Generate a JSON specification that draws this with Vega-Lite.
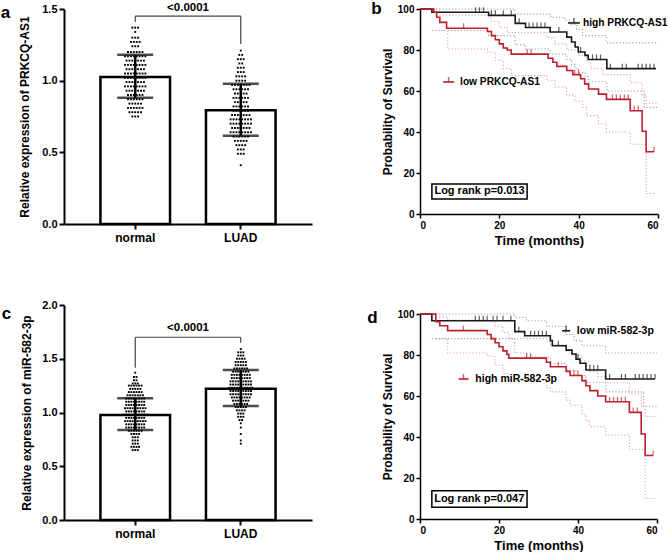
{
"$schema":"https://vega.github.io/schema/vega-lite/v6.json",
"background":"white",
"padding":{"left":0,"top":0,"right":0,"bottom":0},
"config":{
 "font":"Liberation Sans",
 "view":{"stroke":null},
 "axis":{"labelFont":"Liberation Sans","titleFont":"Liberation Sans","labelFontWeight":"bold","titleFontWeight":"bold","labelColor":"#000","titleColor":"#000","domainColor":"#000","tickColor":"#000","grid":false,"domainWidth":2,"tickWidth":2},
 "title":{"font":"Liberation Sans","color":"#000"},
 "text":{"font":"Liberation Sans"}
},
"datasets":{
 "sumA":[{"g":"normal","mean":1.026,"lo":0.881,"hi":1.18},{"g":"LUAD","mean":0.793,"lo":0.616,"hi":0.979}],
 "brA":[{"g":"normal","top":1.45,"bot":1.41},{"g":"LUAD","top":1.45,"bot":1.256}],
 "brA2":[{"from":"normal","to":"LUAD","y":1.45,"ly":1.51,"label":"<0.0001"}],
 "sumC":[{"g":"normal","mean":0.977,"lo":0.837,"hi":1.132},{"g":"LUAD","mean":1.222,"lo":1.06,"hi":1.395}],
 "brC":[{"g":"normal","top":1.7,"bot":1.417},{"g":"LUAD","top":1.7,"bot":1.65}],
 "brC2":[{"from":"normal","to":"LUAD","y":1.7,"ly":1.79,"label":"<0.0001"}],
 "dotsA":[
{"g":"normal","v":1.37,"c":-1},{"g":"normal","v":1.37,"c":0},{"g":"normal","v":1.37,"c":1},
{"g":"normal","v":1.34,"c":0},
{"g":"normal","v":1.3,"c":-1},{"g":"normal","v":1.3,"c":0},{"g":"normal","v":1.3,"c":1},
{"g":"normal","v":1.27,"c":-1.5},{"g":"normal","v":1.27,"c":-0.5},{"g":"normal","v":1.27,"c":0.5},{"g":"normal","v":1.27,"c":1.5},
{"g":"normal","v":1.24,"c":-1},{"g":"normal","v":1.24,"c":0},{"g":"normal","v":1.24,"c":1},
{"g":"normal","v":1.2,"c":-2.5},{"g":"normal","v":1.2,"c":-1.5},{"g":"normal","v":1.2,"c":-0.5},{"g":"normal","v":1.2,"c":0.5},{"g":"normal","v":1.2,"c":1.5},{"g":"normal","v":1.2,"c":2.5},
{"g":"normal","v":1.17,"c":-3.5},{"g":"normal","v":1.17,"c":-2.5},{"g":"normal","v":1.17,"c":-1.5},{"g":"normal","v":1.17,"c":-0.5},{"g":"normal","v":1.17,"c":0.5},{"g":"normal","v":1.17,"c":1.5},{"g":"normal","v":1.17,"c":2.5},{"g":"normal","v":1.17,"c":3.5},
{"g":"normal","v":1.14,"c":-3},{"g":"normal","v":1.14,"c":-2},{"g":"normal","v":1.14,"c":-1},{"g":"normal","v":1.14,"c":0},{"g":"normal","v":1.14,"c":1},{"g":"normal","v":1.14,"c":2},{"g":"normal","v":1.14,"c":3},
{"g":"normal","v":1.11,"c":-3.5},{"g":"normal","v":1.11,"c":-2.5},{"g":"normal","v":1.11,"c":-1.5},{"g":"normal","v":1.11,"c":-0.5},{"g":"normal","v":1.11,"c":0.5},{"g":"normal","v":1.11,"c":1.5},{"g":"normal","v":1.11,"c":2.5},{"g":"normal","v":1.11,"c":3.5},
{"g":"normal","v":1.08,"c":-3},{"g":"normal","v":1.08,"c":-2},{"g":"normal","v":1.08,"c":-1},{"g":"normal","v":1.08,"c":0},{"g":"normal","v":1.08,"c":1},{"g":"normal","v":1.08,"c":2},{"g":"normal","v":1.08,"c":3},
{"g":"normal","v":1.05,"c":-3.5},{"g":"normal","v":1.05,"c":-2.5},{"g":"normal","v":1.05,"c":-1.5},{"g":"normal","v":1.05,"c":-0.5},{"g":"normal","v":1.05,"c":0.5},{"g":"normal","v":1.05,"c":1.5},{"g":"normal","v":1.05,"c":2.5},{"g":"normal","v":1.05,"c":3.5},
{"g":"normal","v":1.02,"c":-3.5},{"g":"normal","v":1.02,"c":-2.5},{"g":"normal","v":1.02,"c":-1.5},{"g":"normal","v":1.02,"c":-0.5},{"g":"normal","v":1.02,"c":0.5},{"g":"normal","v":1.02,"c":1.5},{"g":"normal","v":1.02,"c":2.5},{"g":"normal","v":1.02,"c":3.5},
{"g":"normal","v":0.99,"c":-3},{"g":"normal","v":0.99,"c":-2},{"g":"normal","v":0.99,"c":-1},{"g":"normal","v":0.99,"c":0},{"g":"normal","v":0.99,"c":1},{"g":"normal","v":0.99,"c":2},{"g":"normal","v":0.99,"c":3},
{"g":"normal","v":0.96,"c":-3.5},{"g":"normal","v":0.96,"c":-2.5},{"g":"normal","v":0.96,"c":-1.5},{"g":"normal","v":0.96,"c":-0.5},{"g":"normal","v":0.96,"c":0.5},{"g":"normal","v":0.96,"c":1.5},{"g":"normal","v":0.96,"c":2.5},{"g":"normal","v":0.96,"c":3.5},
{"g":"normal","v":0.93,"c":-3},{"g":"normal","v":0.93,"c":-2},{"g":"normal","v":0.93,"c":-1},{"g":"normal","v":0.93,"c":0},{"g":"normal","v":0.93,"c":1},{"g":"normal","v":0.93,"c":2},{"g":"normal","v":0.93,"c":3},
{"g":"normal","v":0.9,"c":-2.5},{"g":"normal","v":0.9,"c":-1.5},{"g":"normal","v":0.9,"c":-0.5},{"g":"normal","v":0.9,"c":0.5},{"g":"normal","v":0.9,"c":1.5},{"g":"normal","v":0.9,"c":2.5},
{"g":"normal","v":0.87,"c":-2.5},{"g":"normal","v":0.87,"c":-1.5},{"g":"normal","v":0.87,"c":-0.5},{"g":"normal","v":0.87,"c":0.5},{"g":"normal","v":0.87,"c":1.5},{"g":"normal","v":0.87,"c":2.5},
{"g":"normal","v":0.84,"c":-2},{"g":"normal","v":0.84,"c":-1},{"g":"normal","v":0.84,"c":0},{"g":"normal","v":0.84,"c":1},{"g":"normal","v":0.84,"c":2},
{"g":"normal","v":0.81,"c":-2.5},{"g":"normal","v":0.81,"c":-1.5},{"g":"normal","v":0.81,"c":-0.5},{"g":"normal","v":0.81,"c":0.5},{"g":"normal","v":0.81,"c":1.5},{"g":"normal","v":0.81,"c":2.5},
{"g":"normal","v":0.78,"c":-2},{"g":"normal","v":0.78,"c":-1},{"g":"normal","v":0.78,"c":0},{"g":"normal","v":0.78,"c":1},{"g":"normal","v":0.78,"c":2},
{"g":"normal","v":0.75,"c":-1},{"g":"normal","v":0.75,"c":0},{"g":"normal","v":0.75,"c":1},
{"g":"LUAD","v":1.21,"c":0},
{"g":"LUAD","v":1.18,"c":-0.5},{"g":"LUAD","v":1.18,"c":0.5},
{"g":"LUAD","v":1.15,"c":-1},{"g":"LUAD","v":1.15,"c":0},{"g":"LUAD","v":1.15,"c":1},
{"g":"LUAD","v":1.12,"c":-0.5},{"g":"LUAD","v":1.12,"c":0.5},
{"g":"LUAD","v":1.09,"c":-1},{"g":"LUAD","v":1.09,"c":0},{"g":"LUAD","v":1.09,"c":1},
{"g":"LUAD","v":1.06,"c":-1},{"g":"LUAD","v":1.06,"c":0},{"g":"LUAD","v":1.06,"c":1},
{"g":"LUAD","v":1.03,"c":-1.5},{"g":"LUAD","v":1.03,"c":-0.5},{"g":"LUAD","v":1.03,"c":0.5},{"g":"LUAD","v":1.03,"c":1.5},
{"g":"LUAD","v":1.0,"c":-1.5},{"g":"LUAD","v":1.0,"c":-0.5},{"g":"LUAD","v":1.0,"c":0.5},{"g":"LUAD","v":1.0,"c":1.5},
{"g":"LUAD","v":0.97,"c":-3},{"g":"LUAD","v":0.97,"c":-2},{"g":"LUAD","v":0.97,"c":-1},{"g":"LUAD","v":0.97,"c":0},{"g":"LUAD","v":0.97,"c":1},{"g":"LUAD","v":0.97,"c":2},{"g":"LUAD","v":0.97,"c":3},
{"g":"LUAD","v":0.94,"c":-2.5},{"g":"LUAD","v":0.94,"c":-1.5},{"g":"LUAD","v":0.94,"c":-0.5},{"g":"LUAD","v":0.94,"c":0.5},{"g":"LUAD","v":0.94,"c":1.5},{"g":"LUAD","v":0.94,"c":2.5},
{"g":"LUAD","v":0.91,"c":-2},{"g":"LUAD","v":0.91,"c":-1},{"g":"LUAD","v":0.91,"c":0},{"g":"LUAD","v":0.91,"c":1},{"g":"LUAD","v":0.91,"c":2},
{"g":"LUAD","v":0.88,"c":-2.5},{"g":"LUAD","v":0.88,"c":-1.5},{"g":"LUAD","v":0.88,"c":-0.5},{"g":"LUAD","v":0.88,"c":0.5},{"g":"LUAD","v":0.88,"c":1.5},{"g":"LUAD","v":0.88,"c":2.5},
{"g":"LUAD","v":0.85,"c":-2},{"g":"LUAD","v":0.85,"c":-1},{"g":"LUAD","v":0.85,"c":0},{"g":"LUAD","v":0.85,"c":1},{"g":"LUAD","v":0.85,"c":2},
{"g":"LUAD","v":0.82,"c":-2.5},{"g":"LUAD","v":0.82,"c":-1.5},{"g":"LUAD","v":0.82,"c":-0.5},{"g":"LUAD","v":0.82,"c":0.5},{"g":"LUAD","v":0.82,"c":1.5},{"g":"LUAD","v":0.82,"c":2.5},
{"g":"LUAD","v":0.79,"c":-2.5},{"g":"LUAD","v":0.79,"c":-1.5},{"g":"LUAD","v":0.79,"c":-0.5},{"g":"LUAD","v":0.79,"c":0.5},{"g":"LUAD","v":0.79,"c":1.5},{"g":"LUAD","v":0.79,"c":2.5},
{"g":"LUAD","v":0.76,"c":-3},{"g":"LUAD","v":0.76,"c":-2},{"g":"LUAD","v":0.76,"c":-1},{"g":"LUAD","v":0.76,"c":0},{"g":"LUAD","v":0.76,"c":1},{"g":"LUAD","v":0.76,"c":2},{"g":"LUAD","v":0.76,"c":3},
{"g":"LUAD","v":0.73,"c":-3.5},{"g":"LUAD","v":0.73,"c":-2.5},{"g":"LUAD","v":0.73,"c":-1.5},{"g":"LUAD","v":0.73,"c":-0.5},{"g":"LUAD","v":0.73,"c":0.5},{"g":"LUAD","v":0.73,"c":1.5},{"g":"LUAD","v":0.73,"c":2.5},{"g":"LUAD","v":0.73,"c":3.5},
{"g":"LUAD","v":0.7,"c":-3.5},{"g":"LUAD","v":0.7,"c":-2.5},{"g":"LUAD","v":0.7,"c":-1.5},{"g":"LUAD","v":0.7,"c":-0.5},{"g":"LUAD","v":0.7,"c":0.5},{"g":"LUAD","v":0.7,"c":1.5},{"g":"LUAD","v":0.7,"c":2.5},{"g":"LUAD","v":0.7,"c":3.5},
{"g":"LUAD","v":0.67,"c":-3},{"g":"LUAD","v":0.67,"c":-2},{"g":"LUAD","v":0.67,"c":-1},{"g":"LUAD","v":0.67,"c":0},{"g":"LUAD","v":0.67,"c":1},{"g":"LUAD","v":0.67,"c":2},{"g":"LUAD","v":0.67,"c":3},
{"g":"LUAD","v":0.64,"c":-3.5},{"g":"LUAD","v":0.64,"c":-2.5},{"g":"LUAD","v":0.64,"c":-1.5},{"g":"LUAD","v":0.64,"c":-0.5},{"g":"LUAD","v":0.64,"c":0.5},{"g":"LUAD","v":0.64,"c":1.5},{"g":"LUAD","v":0.64,"c":2.5},{"g":"LUAD","v":0.64,"c":3.5},
{"g":"LUAD","v":0.61,"c":-2.5},{"g":"LUAD","v":0.61,"c":-1.5},{"g":"LUAD","v":0.61,"c":-0.5},{"g":"LUAD","v":0.61,"c":0.5},{"g":"LUAD","v":0.61,"c":1.5},{"g":"LUAD","v":0.61,"c":2.5},
{"g":"LUAD","v":0.58,"c":-2},{"g":"LUAD","v":0.58,"c":-1},{"g":"LUAD","v":0.58,"c":0},{"g":"LUAD","v":0.58,"c":1},{"g":"LUAD","v":0.58,"c":2},
{"g":"LUAD","v":0.55,"c":-1.5},{"g":"LUAD","v":0.55,"c":-0.5},{"g":"LUAD","v":0.55,"c":0.5},{"g":"LUAD","v":0.55,"c":1.5},
{"g":"LUAD","v":0.52,"c":-1},{"g":"LUAD","v":0.52,"c":0},{"g":"LUAD","v":0.52,"c":1},
{"g":"LUAD","v":0.49,"c":-1},{"g":"LUAD","v":0.49,"c":0},{"g":"LUAD","v":0.49,"c":1},
{"g":"LUAD","v":0.41,"c":0}
 ],
 "dotsC":[
{"g":"normal","v":1.37,"c":0},
{"g":"normal","v":1.33,"c":-0.5},{"g":"normal","v":1.33,"c":0.5},
{"g":"normal","v":1.3,"c":-0.5},{"g":"normal","v":1.3,"c":0.5},
{"g":"normal","v":1.27,"c":-1},{"g":"normal","v":1.27,"c":0},{"g":"normal","v":1.27,"c":1},
{"g":"normal","v":1.25,"c":-2.5},{"g":"normal","v":1.25,"c":-1.5},{"g":"normal","v":1.25,"c":-0.5},{"g":"normal","v":1.25,"c":0.5},{"g":"normal","v":1.25,"c":1.5},{"g":"normal","v":1.25,"c":2.5},
{"g":"normal","v":1.22,"c":-2},{"g":"normal","v":1.22,"c":-1},{"g":"normal","v":1.22,"c":0},{"g":"normal","v":1.22,"c":1},{"g":"normal","v":1.22,"c":2},
{"g":"normal","v":1.19,"c":-2.5},{"g":"normal","v":1.19,"c":-1.5},{"g":"normal","v":1.19,"c":-0.5},{"g":"normal","v":1.19,"c":0.5},{"g":"normal","v":1.19,"c":1.5},{"g":"normal","v":1.19,"c":2.5},
{"g":"normal","v":1.16,"c":-3},{"g":"normal","v":1.16,"c":-2},{"g":"normal","v":1.16,"c":-1},{"g":"normal","v":1.16,"c":0},{"g":"normal","v":1.16,"c":1},{"g":"normal","v":1.16,"c":2},{"g":"normal","v":1.16,"c":3},
{"g":"normal","v":1.13,"c":-3.5},{"g":"normal","v":1.13,"c":-2.5},{"g":"normal","v":1.13,"c":-1.5},{"g":"normal","v":1.13,"c":-0.5},{"g":"normal","v":1.13,"c":0.5},{"g":"normal","v":1.13,"c":1.5},{"g":"normal","v":1.13,"c":2.5},{"g":"normal","v":1.13,"c":3.5},
{"g":"normal","v":1.1,"c":-3.5},{"g":"normal","v":1.1,"c":-2.5},{"g":"normal","v":1.1,"c":-1.5},{"g":"normal","v":1.1,"c":-0.5},{"g":"normal","v":1.1,"c":0.5},{"g":"normal","v":1.1,"c":1.5},{"g":"normal","v":1.1,"c":2.5},{"g":"normal","v":1.1,"c":3.5},
{"g":"normal","v":1.07,"c":-3.5},{"g":"normal","v":1.07,"c":-2.5},{"g":"normal","v":1.07,"c":-1.5},{"g":"normal","v":1.07,"c":-0.5},{"g":"normal","v":1.07,"c":0.5},{"g":"normal","v":1.07,"c":1.5},{"g":"normal","v":1.07,"c":2.5},{"g":"normal","v":1.07,"c":3.5},
{"g":"normal","v":1.04,"c":-4},{"g":"normal","v":1.04,"c":-3},{"g":"normal","v":1.04,"c":-2},{"g":"normal","v":1.04,"c":-1},{"g":"normal","v":1.04,"c":0},{"g":"normal","v":1.04,"c":1},{"g":"normal","v":1.04,"c":2},{"g":"normal","v":1.04,"c":3},{"g":"normal","v":1.04,"c":4},
{"g":"normal","v":1.01,"c":-3.5},{"g":"normal","v":1.01,"c":-2.5},{"g":"normal","v":1.01,"c":-1.5},{"g":"normal","v":1.01,"c":-0.5},{"g":"normal","v":1.01,"c":0.5},{"g":"normal","v":1.01,"c":1.5},{"g":"normal","v":1.01,"c":2.5},{"g":"normal","v":1.01,"c":3.5},
{"g":"normal","v":0.98,"c":-4.5},{"g":"normal","v":0.98,"c":-3.5},{"g":"normal","v":0.98,"c":-2.5},{"g":"normal","v":0.98,"c":-1.5},{"g":"normal","v":0.98,"c":-0.5},{"g":"normal","v":0.98,"c":0.5},{"g":"normal","v":0.98,"c":1.5},{"g":"normal","v":0.98,"c":2.5},{"g":"normal","v":0.98,"c":3.5},{"g":"normal","v":0.98,"c":4.5},
{"g":"normal","v":0.95,"c":-3.5},{"g":"normal","v":0.95,"c":-2.5},{"g":"normal","v":0.95,"c":-1.5},{"g":"normal","v":0.95,"c":-0.5},{"g":"normal","v":0.95,"c":0.5},{"g":"normal","v":0.95,"c":1.5},{"g":"normal","v":0.95,"c":2.5},{"g":"normal","v":0.95,"c":3.5},
{"g":"normal","v":0.92,"c":-4},{"g":"normal","v":0.92,"c":-3},{"g":"normal","v":0.92,"c":-2},{"g":"normal","v":0.92,"c":-1},{"g":"normal","v":0.92,"c":0},{"g":"normal","v":0.92,"c":1},{"g":"normal","v":0.92,"c":2},{"g":"normal","v":0.92,"c":3},{"g":"normal","v":0.92,"c":4},
{"g":"normal","v":0.89,"c":-3.5},{"g":"normal","v":0.89,"c":-2.5},{"g":"normal","v":0.89,"c":-1.5},{"g":"normal","v":0.89,"c":-0.5},{"g":"normal","v":0.89,"c":0.5},{"g":"normal","v":0.89,"c":1.5},{"g":"normal","v":0.89,"c":2.5},{"g":"normal","v":0.89,"c":3.5},
{"g":"normal","v":0.86,"c":-3.5},{"g":"normal","v":0.86,"c":-2.5},{"g":"normal","v":0.86,"c":-1.5},{"g":"normal","v":0.86,"c":-0.5},{"g":"normal","v":0.86,"c":0.5},{"g":"normal","v":0.86,"c":1.5},{"g":"normal","v":0.86,"c":2.5},{"g":"normal","v":0.86,"c":3.5},
{"g":"normal","v":0.83,"c":-2.5},{"g":"normal","v":0.83,"c":-1.5},{"g":"normal","v":0.83,"c":-0.5},{"g":"normal","v":0.83,"c":0.5},{"g":"normal","v":0.83,"c":1.5},{"g":"normal","v":0.83,"c":2.5},
{"g":"normal","v":0.8,"c":-1.5},{"g":"normal","v":0.8,"c":-0.5},{"g":"normal","v":0.8,"c":0.5},{"g":"normal","v":0.8,"c":1.5},
{"g":"normal","v":0.77,"c":-1},{"g":"normal","v":0.77,"c":0},{"g":"normal","v":0.77,"c":1},
{"g":"normal","v":0.74,"c":-1},{"g":"normal","v":0.74,"c":0},{"g":"normal","v":0.74,"c":1},
{"g":"normal","v":0.71,"c":-1},{"g":"normal","v":0.71,"c":0},{"g":"normal","v":0.71,"c":1},
{"g":"normal","v":0.68,"c":-1.5},{"g":"normal","v":0.68,"c":-0.5},{"g":"normal","v":0.68,"c":0.5},{"g":"normal","v":0.68,"c":1.5},
{"g":"normal","v":0.65,"c":-1},{"g":"normal","v":0.65,"c":0},{"g":"normal","v":0.65,"c":1},
{"g":"LUAD","v":1.59,"c":0},
{"g":"LUAD","v":1.56,"c":-1},{"g":"LUAD","v":1.56,"c":0},{"g":"LUAD","v":1.56,"c":1},
{"g":"LUAD","v":1.53,"c":-1},{"g":"LUAD","v":1.53,"c":0},{"g":"LUAD","v":1.53,"c":1},
{"g":"LUAD","v":1.5,"c":-1.5},{"g":"LUAD","v":1.5,"c":-0.5},{"g":"LUAD","v":1.5,"c":0.5},{"g":"LUAD","v":1.5,"c":1.5},
{"g":"LUAD","v":1.47,"c":-2},{"g":"LUAD","v":1.47,"c":-1},{"g":"LUAD","v":1.47,"c":0},{"g":"LUAD","v":1.47,"c":1},{"g":"LUAD","v":1.47,"c":2},
{"g":"LUAD","v":1.44,"c":-2},{"g":"LUAD","v":1.44,"c":-1},{"g":"LUAD","v":1.44,"c":0},{"g":"LUAD","v":1.44,"c":1},{"g":"LUAD","v":1.44,"c":2},
{"g":"LUAD","v":1.41,"c":-2.5},{"g":"LUAD","v":1.41,"c":-1.5},{"g":"LUAD","v":1.41,"c":-0.5},{"g":"LUAD","v":1.41,"c":0.5},{"g":"LUAD","v":1.41,"c":1.5},{"g":"LUAD","v":1.41,"c":2.5},
{"g":"LUAD","v":1.38,"c":-3},{"g":"LUAD","v":1.38,"c":-2},{"g":"LUAD","v":1.38,"c":-1},{"g":"LUAD","v":1.38,"c":0},{"g":"LUAD","v":1.38,"c":1},{"g":"LUAD","v":1.38,"c":2},{"g":"LUAD","v":1.38,"c":3},
{"g":"LUAD","v":1.35,"c":-3.5},{"g":"LUAD","v":1.35,"c":-2.5},{"g":"LUAD","v":1.35,"c":-1.5},{"g":"LUAD","v":1.35,"c":-0.5},{"g":"LUAD","v":1.35,"c":0.5},{"g":"LUAD","v":1.35,"c":1.5},{"g":"LUAD","v":1.35,"c":2.5},{"g":"LUAD","v":1.35,"c":3.5},
{"g":"LUAD","v":1.32,"c":-3.5},{"g":"LUAD","v":1.32,"c":-2.5},{"g":"LUAD","v":1.32,"c":-1.5},{"g":"LUAD","v":1.32,"c":-0.5},{"g":"LUAD","v":1.32,"c":0.5},{"g":"LUAD","v":1.32,"c":1.5},{"g":"LUAD","v":1.32,"c":2.5},{"g":"LUAD","v":1.32,"c":3.5},
{"g":"LUAD","v":1.29,"c":-4},{"g":"LUAD","v":1.29,"c":-3},{"g":"LUAD","v":1.29,"c":-2},{"g":"LUAD","v":1.29,"c":-1},{"g":"LUAD","v":1.29,"c":0},{"g":"LUAD","v":1.29,"c":1},{"g":"LUAD","v":1.29,"c":2},{"g":"LUAD","v":1.29,"c":3},{"g":"LUAD","v":1.29,"c":4},
{"g":"LUAD","v":1.26,"c":-4},{"g":"LUAD","v":1.26,"c":-3},{"g":"LUAD","v":1.26,"c":-2},{"g":"LUAD","v":1.26,"c":-1},{"g":"LUAD","v":1.26,"c":0},{"g":"LUAD","v":1.26,"c":1},{"g":"LUAD","v":1.26,"c":2},{"g":"LUAD","v":1.26,"c":3},{"g":"LUAD","v":1.26,"c":4},
{"g":"LUAD","v":1.23,"c":-4.5},{"g":"LUAD","v":1.23,"c":-3.5},{"g":"LUAD","v":1.23,"c":-2.5},{"g":"LUAD","v":1.23,"c":-1.5},{"g":"LUAD","v":1.23,"c":-0.5},{"g":"LUAD","v":1.23,"c":0.5},{"g":"LUAD","v":1.23,"c":1.5},{"g":"LUAD","v":1.23,"c":2.5},{"g":"LUAD","v":1.23,"c":3.5},{"g":"LUAD","v":1.23,"c":4.5},
{"g":"LUAD","v":1.2,"c":-4},{"g":"LUAD","v":1.2,"c":-3},{"g":"LUAD","v":1.2,"c":-2},{"g":"LUAD","v":1.2,"c":-1},{"g":"LUAD","v":1.2,"c":0},{"g":"LUAD","v":1.2,"c":1},{"g":"LUAD","v":1.2,"c":2},{"g":"LUAD","v":1.2,"c":3},{"g":"LUAD","v":1.2,"c":4},
{"g":"LUAD","v":1.17,"c":-4},{"g":"LUAD","v":1.17,"c":-3},{"g":"LUAD","v":1.17,"c":-2},{"g":"LUAD","v":1.17,"c":-1},{"g":"LUAD","v":1.17,"c":0},{"g":"LUAD","v":1.17,"c":1},{"g":"LUAD","v":1.17,"c":2},{"g":"LUAD","v":1.17,"c":3},{"g":"LUAD","v":1.17,"c":4},
{"g":"LUAD","v":1.14,"c":-3.5},{"g":"LUAD","v":1.14,"c":-2.5},{"g":"LUAD","v":1.14,"c":-1.5},{"g":"LUAD","v":1.14,"c":-0.5},{"g":"LUAD","v":1.14,"c":0.5},{"g":"LUAD","v":1.14,"c":1.5},{"g":"LUAD","v":1.14,"c":2.5},{"g":"LUAD","v":1.14,"c":3.5},
{"g":"LUAD","v":1.11,"c":-3},{"g":"LUAD","v":1.11,"c":-2},{"g":"LUAD","v":1.11,"c":-1},{"g":"LUAD","v":1.11,"c":0},{"g":"LUAD","v":1.11,"c":1},{"g":"LUAD","v":1.11,"c":2},{"g":"LUAD","v":1.11,"c":3},
{"g":"LUAD","v":1.08,"c":-2.5},{"g":"LUAD","v":1.08,"c":-1.5},{"g":"LUAD","v":1.08,"c":-0.5},{"g":"LUAD","v":1.08,"c":0.5},{"g":"LUAD","v":1.08,"c":1.5},{"g":"LUAD","v":1.08,"c":2.5},
{"g":"LUAD","v":1.05,"c":-2},{"g":"LUAD","v":1.05,"c":-1},{"g":"LUAD","v":1.05,"c":0},{"g":"LUAD","v":1.05,"c":1},{"g":"LUAD","v":1.05,"c":2},
{"g":"LUAD","v":1.02,"c":-1.5},{"g":"LUAD","v":1.02,"c":-0.5},{"g":"LUAD","v":1.02,"c":0.5},{"g":"LUAD","v":1.02,"c":1.5},
{"g":"LUAD","v":0.99,"c":-1},{"g":"LUAD","v":0.99,"c":0},{"g":"LUAD","v":0.99,"c":1},
{"g":"LUAD","v":0.96,"c":-1},{"g":"LUAD","v":0.96,"c":0},{"g":"LUAD","v":0.96,"c":1},
{"g":"LUAD","v":0.93,"c":-0.5},{"g":"LUAD","v":0.93,"c":0.5},
{"g":"LUAD","v":0.9,"c":0},
{"g":"LUAD","v":0.86,"c":0},
{"g":"LUAD","v":0.8,"c":0},
{"g":"LUAD","v":0.74,"c":0},
{"g":"LUAD","v":0.71,"c":0}
 ],
 "kmB":[
{"grp":"high","t":0,"s":100},{"grp":"high","t":3,"s":98.4},{"grp":"high","t":17.3,"s":96.9},{"grp":"high","t":24,"s":93},{"grp":"high","t":26.6,"s":91},{"grp":"high","t":32.8,"s":88.8},{"grp":"high","t":37,"s":86.3},{"grp":"high","t":38.2,"s":83.9},{"grp":"high","t":39.1,"s":81.5},{"grp":"high","t":39.9,"s":79},{"grp":"high","t":41.6,"s":77.4},{"grp":"high","t":42.4,"s":75.4},{"grp":"high","t":47.1,"s":70.9},{"grp":"high","t":59.5,"s":70.9},
{"grp":"low","t":0,"s":100},{"grp":"low","t":3.5,"s":98.4},{"grp":"low","t":4.2,"s":96},{"grp":"low","t":5,"s":93.5},{"grp":"low","t":6.7,"s":90.6},{"grp":"low","t":17,"s":89},{"grp":"low","t":18,"s":87},{"grp":"low","t":19,"s":85},{"grp":"low","t":20,"s":83},{"grp":"low","t":21,"s":81},{"grp":"low","t":22,"s":80},{"grp":"low","t":23,"s":78},{"grp":"low","t":32.3,"s":76},{"grp":"low","t":33.5,"s":74},{"grp":"low","t":34.5,"s":72},{"grp":"low","t":37,"s":70},{"grp":"low","t":38.5,"s":68},{"grp":"low","t":40.5,"s":66},{"grp":"low","t":41.5,"s":63.5},{"grp":"low","t":42.5,"s":61},{"grp":"low","t":45,"s":58.5},{"grp":"low","t":47,"s":55.9},{"grp":"low","t":53,"s":50.4},{"grp":"low","t":56,"s":40.4},{"grp":"low","t":57,"s":30.4},{"grp":"low","t":59,"s":30.4}
 ],
 "ciB":[
{"grp":"highCI","b":"up","t":0,"s":100},{"grp":"highCI","b":"up","t":24,"s":97.5},{"grp":"highCI","b":"up","t":33,"s":96},{"grp":"highCI","b":"up","t":36.5,"s":94.5},{"grp":"highCI","b":"up","t":38,"s":92.5},{"grp":"highCI","b":"up","t":39.5,"s":90},{"grp":"highCI","b":"up","t":41,"s":87},{"grp":"highCI","b":"up","t":47,"s":83.5},{"grp":"highCI","b":"up","t":60,"s":83.5},
{"grp":"highCI","b":"lo","t":3,"s":89.5},{"grp":"highCI","b":"lo","t":17.3,"s":87},{"grp":"highCI","b":"lo","t":24,"s":82.5},{"grp":"highCI","b":"lo","t":26.6,"s":80.5},{"grp":"highCI","b":"lo","t":32.8,"s":78},{"grp":"highCI","b":"lo","t":37,"s":75.5},{"grp":"highCI","b":"lo","t":38.2,"s":73},{"grp":"highCI","b":"lo","t":39.1,"s":71},{"grp":"highCI","b":"lo","t":39.9,"s":69},{"grp":"highCI","b":"lo","t":41.6,"s":67},{"grp":"highCI","b":"lo","t":42.4,"s":64.5},{"grp":"highCI","b":"lo","t":47.1,"s":60},{"grp":"highCI","b":"lo","t":56.5,"s":52},{"grp":"highCI","b":"lo","t":60,"s":52},
{"grp":"lowCI","b":"up","t":0,"s":100},{"grp":"lowCI","b":"up","t":5,"s":97},{"grp":"lowCI","b":"up","t":17,"s":96},{"grp":"lowCI","b":"up","t":18,"s":94},{"grp":"lowCI","b":"up","t":20,"s":91},{"grp":"lowCI","b":"up","t":22,"s":88.5},{"grp":"lowCI","b":"up","t":32,"s":86},{"grp":"lowCI","b":"up","t":34,"s":83},{"grp":"lowCI","b":"up","t":37,"s":80},{"grp":"lowCI","b":"up","t":40,"s":77.5},{"grp":"lowCI","b":"up","t":42,"s":74},{"grp":"lowCI","b":"up","t":43,"s":71},{"grp":"lowCI","b":"up","t":46,"s":68},{"grp":"lowCI","b":"up","t":53,"s":64},{"grp":"lowCI","b":"up","t":56,"s":58},{"grp":"lowCI","b":"up","t":57,"s":54},{"grp":"lowCI","b":"up","t":60,"s":54},
{"grp":"lowCI","b":"lo","t":3,"s":89.5},{"grp":"lowCI","b":"lo","t":7,"s":80.5},{"grp":"lowCI","b":"lo","t":17,"s":79},{"grp":"lowCI","b":"lo","t":19,"s":75},{"grp":"lowCI","b":"lo","t":21,"s":71},{"grp":"lowCI","b":"lo","t":23,"s":67.5},{"grp":"lowCI","b":"lo","t":32,"s":65},{"grp":"lowCI","b":"lo","t":34,"s":62},{"grp":"lowCI","b":"lo","t":37,"s":58},{"grp":"lowCI","b":"lo","t":39,"s":55},{"grp":"lowCI","b":"lo","t":41,"s":52},{"grp":"lowCI","b":"lo","t":42,"s":48},{"grp":"lowCI","b":"lo","t":45,"s":44},{"grp":"lowCI","b":"lo","t":47,"s":40},{"grp":"lowCI","b":"lo","t":53,"s":34},{"grp":"lowCI","b":"lo","t":57,"s":10},{"grp":"lowCI","b":"lo","t":59.5,"s":10}
 ],
 "cenB":[
{"grp":"high","t":14,"s":98.4},{"grp":"high","t":15,"s":98.4},{"grp":"high","t":16,"s":98.4},{"grp":"high","t":18,"s":96.9},{"grp":"high","t":19,"s":96.9},{"grp":"high","t":21,"s":96.9},{"grp":"high","t":23,"s":96.9},{"grp":"high","t":25,"s":93},{"grp":"high","t":27.5,"s":91},{"grp":"high","t":28.5,"s":91},{"grp":"high","t":29.5,"s":91},{"grp":"high","t":30.5,"s":91},{"grp":"high","t":31.5,"s":91},{"grp":"high","t":35,"s":88.8},{"grp":"high","t":40.5,"s":79},{"grp":"high","t":43.5,"s":75.4},{"grp":"high","t":44.5,"s":75.4},{"grp":"high","t":45.5,"s":75.4},{"grp":"high","t":48,"s":70.9},{"grp":"high","t":51,"s":70.9},{"grp":"high","t":52,"s":70.9},{"grp":"high","t":55,"s":70.9},{"grp":"high","t":56,"s":70.9},{"grp":"high","t":57,"s":70.9},{"grp":"high","t":58,"s":70.9},{"grp":"high","t":59,"s":70.9},
{"grp":"low","t":11,"s":90.6},{"grp":"low","t":27,"s":78},{"grp":"low","t":28,"s":78},{"grp":"low","t":39,"s":68},{"grp":"low","t":40,"s":68},{"grp":"low","t":48.5,"s":55.9},{"grp":"low","t":49.5,"s":55.9},{"grp":"low","t":50.5,"s":55.9},{"grp":"low","t":51.5,"s":55.9},{"grp":"low","t":52.5,"s":55.9},{"grp":"low","t":54,"s":50.4},{"grp":"low","t":55,"s":50.4},{"grp":"low","t":59,"s":30.4}
 ],
 "legB":[{"grp":"high","t1":37.3,"t2":40.3,"tm":38.8,"s":93.2,"tx":41.1,"label":"high PRKCQ-AS1"},{"grp":"low","t1":5.8,"t2":8.6,"tm":7.2,"s":64.4,"tx":10.1,"label":"low PRKCQ-AS1"}],
 "boxB":[{"t1":3,"t2":27,"s1":7.3,"s2":14.6,"tc":15,"sc":11,"label":"Log rank p=0.013"}],
 "kmD":[
{"grp":"low","t":0,"s":100},{"grp":"low","t":3,"s":96.7},{"grp":"low","t":24,"s":91.4},{"grp":"low","t":26.5,"s":89.4},{"grp":"low","t":33,"s":87},{"grp":"low","t":33.5,"s":84.5},{"grp":"low","t":37,"s":82.4},{"grp":"low","t":38.5,"s":80.5},{"grp":"low","t":39.5,"s":78},{"grp":"low","t":40.5,"s":76},{"grp":"low","t":42,"s":72.7},{"grp":"low","t":47,"s":68.3},{"grp":"low","t":59.5,"s":68.3},
{"grp":"high","t":0,"s":100},{"grp":"high","t":4,"s":96.3},{"grp":"high","t":5,"s":94.3},{"grp":"high","t":7,"s":91.9},{"grp":"high","t":17,"s":90},{"grp":"high","t":18,"s":88},{"grp":"high","t":19,"s":86},{"grp":"high","t":20,"s":84},{"grp":"high","t":21,"s":82},{"grp":"high","t":22,"s":80.3},{"grp":"high","t":22.5,"s":78.5},{"grp":"high","t":32,"s":76.5},{"grp":"high","t":33,"s":74.3},{"grp":"high","t":37,"s":72},{"grp":"high","t":38,"s":70},{"grp":"high","t":41,"s":67.5},{"grp":"high","t":42,"s":65},{"grp":"high","t":43,"s":62.6},{"grp":"high","t":45,"s":60},{"grp":"high","t":47,"s":57.2},{"grp":"high","t":53,"s":52},{"grp":"high","t":56,"s":41.5},{"grp":"high","t":57,"s":31},{"grp":"high","t":59,"s":31}
 ],
 "ciD":[
{"grp":"lowCI","b":"up","t":0,"s":100},{"grp":"lowCI","b":"up","t":24,"s":98.3},{"grp":"lowCI","b":"up","t":27,"s":96.7},{"grp":"lowCI","b":"up","t":32,"s":94},{"grp":"lowCI","b":"up","t":36.8,"s":90},{"grp":"lowCI","b":"up","t":39,"s":87},{"grp":"lowCI","b":"up","t":41,"s":84.5},{"grp":"lowCI","b":"up","t":47,"s":81},{"grp":"lowCI","b":"up","t":60,"s":81},
{"grp":"lowCI","b":"lo","t":3,"s":88},{"grp":"lowCI","b":"lo","t":24,"s":81},{"grp":"lowCI","b":"lo","t":27,"s":79},{"grp":"lowCI","b":"lo","t":33,"s":76},{"grp":"lowCI","b":"lo","t":37,"s":72.5},{"grp":"lowCI","b":"lo","t":39.5,"s":70},{"grp":"lowCI","b":"lo","t":42,"s":66.7},{"grp":"lowCI","b":"lo","t":47,"s":62},{"grp":"lowCI","b":"lo","t":56.6,"s":55},{"grp":"lowCI","b":"lo","t":60,"s":55},
{"grp":"highCI","b":"up","t":0,"s":100},{"grp":"highCI","b":"up","t":5,"s":98.5},{"grp":"highCI","b":"up","t":7,"s":97},{"grp":"highCI","b":"up","t":17,"s":96.5},{"grp":"highCI","b":"up","t":19,"s":94},{"grp":"highCI","b":"up","t":21,"s":91},{"grp":"highCI","b":"up","t":22.5,"s":88},{"grp":"highCI","b":"up","t":32,"s":86.5},{"grp":"highCI","b":"up","t":33,"s":85},{"grp":"highCI","b":"up","t":37,"s":82},{"grp":"highCI","b":"up","t":38,"s":80},{"grp":"highCI","b":"up","t":41,"s":77},{"grp":"highCI","b":"up","t":42,"s":75},{"grp":"highCI","b":"up","t":43,"s":72},{"grp":"highCI","b":"up","t":45,"s":69.5},{"grp":"highCI","b":"up","t":47,"s":66.5},{"grp":"highCI","b":"up","t":53,"s":61},{"grp":"highCI","b":"up","t":56,"s":55},{"grp":"highCI","b":"up","t":57,"s":50},{"grp":"highCI","b":"up","t":60,"s":50},
{"grp":"highCI","b":"lo","t":4,"s":88},{"grp":"highCI","b":"lo","t":7,"s":81},{"grp":"highCI","b":"lo","t":17,"s":79.5},{"grp":"highCI","b":"lo","t":19,"s":75},{"grp":"highCI","b":"lo","t":21,"s":71},{"grp":"highCI","b":"lo","t":22.5,"s":68},{"grp":"highCI","b":"lo","t":32,"s":64},{"grp":"highCI","b":"lo","t":33,"s":62},{"grp":"highCI","b":"lo","t":37,"s":58},{"grp":"highCI","b":"lo","t":38,"s":55.5},{"grp":"highCI","b":"lo","t":41,"s":51},{"grp":"highCI","b":"lo","t":42,"s":48},{"grp":"highCI","b":"lo","t":43,"s":45},{"grp":"highCI","b":"lo","t":47,"s":41},{"grp":"highCI","b":"lo","t":53,"s":34},{"grp":"highCI","b":"lo","t":57,"s":10},{"grp":"highCI","b":"lo","t":59.5,"s":10}
 ],
 "cenD":[
{"grp":"low","t":14,"s":96.7},{"grp":"low","t":15,"s":96.7},{"grp":"low","t":16,"s":96.7},{"grp":"low","t":17,"s":96.7},{"grp":"low","t":18.5,"s":96.7},{"grp":"low","t":19.5,"s":96.7},{"grp":"low","t":21,"s":96.7},{"grp":"low","t":23,"s":96.7},{"grp":"low","t":25,"s":91.4},{"grp":"low","t":28,"s":89.4},{"grp":"low","t":29,"s":89.4},{"grp":"low","t":30,"s":89.4},{"grp":"low","t":31,"s":89.4},{"grp":"low","t":32,"s":89.4},{"grp":"low","t":35,"s":84.5},{"grp":"low","t":40,"s":78},{"grp":"low","t":43,"s":72.7},{"grp":"low","t":44,"s":72.7},{"grp":"low","t":45,"s":72.7},{"grp":"low","t":48,"s":68.3},{"grp":"low","t":51,"s":68.3},{"grp":"low","t":52,"s":68.3},{"grp":"low","t":54.5,"s":68.3},{"grp":"low","t":55.5,"s":68.3},{"grp":"low","t":56.5,"s":68.3},{"grp":"low","t":57.5,"s":68.3},{"grp":"low","t":58.5,"s":68.3},{"grp":"low","t":59.5,"s":68.3},
{"grp":"high","t":11,"s":91.9},{"grp":"high","t":27,"s":78.5},{"grp":"high","t":28,"s":78.5},{"grp":"high","t":35,"s":74.3},{"grp":"high","t":39,"s":70},{"grp":"high","t":40,"s":70},{"grp":"high","t":48,"s":57.2},{"grp":"high","t":49,"s":57.2},{"grp":"high","t":50,"s":57.2},{"grp":"high","t":51,"s":57.2},{"grp":"high","t":52,"s":57.2},{"grp":"high","t":54,"s":52},{"grp":"high","t":55,"s":52},{"grp":"high","t":59,"s":31}
 ],
 "legD":[{"grp":"low","t1":36,"t2":38,"tm":37,"s":91.8,"tx":39.7,"label":"low miR-582-3p"},{"grp":"high","t1":9.8,"t2":12.3,"tm":11,"s":68.3,"tx":14,"label":"high miR-582-3p"}],
 "boxD":[{"t1":3,"t2":27.1,"s1":5.7,"s2":13.8,"tc":15,"sc":9.8,"label":"Log rank p=0.047"}]
},
"hconcat":[
 {"vconcat":[
  {"width":248,"height":215,
   "title":{"text":"a","anchor":"start","frame":"bounds","fontSize":17,"fontWeight":"bold","dx":-18,"dy":20,"offset":0},
   "layer":[
    {"data":{"name":"sumA"},"mark":{"type":"bar","fill":"white","stroke":"black","strokeWidth":2.5,"width":69.6},
     "encoding":{"x":{"field":"g","type":"nominal","sort":["normal","LUAD"],"scale":{"domain":["normal","LUAD"],"paddingInner":0.34,"paddingOuter":0.345},"axis":{"title":null,"labelAngle":0,"labelFontSize":12,"labelPadding":3,"tickSize":5}},
      "y":{"field":"mean","type":"quantitative","scale":{"domain":[0,1.5],"nice":false},"axis":{"title":"Relative expression of  PRKCQ-AS1","values":[0,0.5,1,1.5],"format":".1f","labelFontSize":11,"titleFontSize":12,"titlePadding":10,"tickSize":5,"labelPadding":2}}}},
    {"data":{"name":"dotsA"},"mark":{"type":"square","size":3.6,"color":"black","opacity":1},
     "encoding":{"x":{"field":"g","type":"nominal","sort":["normal","LUAD"]},"xOffset":{"field":"c","type":"quantitative","scale":{"domain":[-12,12]}},"y":{"field":"v","type":"quantitative"}}},
    {"data":{"name":"sumA"},"mark":{"type":"rule","strokeWidth":2.5,"color":"black"},
     "encoding":{"x":{"field":"g","type":"nominal","sort":["normal","LUAD"]},"y":{"field":"lo","type":"quantitative"},"y2":{"field":"hi"}}},
    {"data":{"name":"sumA"},"mark":{"type":"tick","orient":"horizontal","size":36,"thickness":2.5,"color":"black"},
     "encoding":{"x":{"field":"g","type":"nominal","sort":["normal","LUAD"]},"y":{"field":"lo","type":"quantitative"}}},
    {"data":{"name":"sumA"},"mark":{"type":"tick","orient":"horizontal","size":36,"thickness":2.5,"color":"black"},
     "encoding":{"x":{"field":"g","type":"nominal","sort":["normal","LUAD"]},"y":{"field":"hi","type":"quantitative"}}},
    {"data":{"name":"brA"},"mark":{"type":"rule","strokeWidth":1.2,"color":"#444"},
     "encoding":{"x":{"field":"g","type":"nominal","sort":["normal","LUAD"]},"y":{"field":"top","type":"quantitative"},"y2":{"field":"bot"}}},
    {"data":{"name":"brA2"},"mark":{"type":"rule","strokeWidth":1.2,"color":"#444"},
     "encoding":{"x":{"field":"from","type":"nominal","sort":["normal","LUAD"]},"x2":{"field":"to"},"y":{"field":"y","type":"quantitative"}}},
    {"data":{"name":"brA2"},"mark":{"type":"text","fontSize":11.5,"fontWeight":"bold","color":"black","dx":-52.75},
     "encoding":{"x":{"field":"to","type":"nominal","sort":["normal","LUAD"]},"y":{"field":"ly","type":"quantitative"},"text":{"field":"label"}}}
   ]},
  {"width":248,"height":215,
   "title":{"text":"c","anchor":"start","frame":"bounds","fontSize":17,"fontWeight":"bold","dx":-19,"dy":24,"offset":0},
   "layer":[
    {"data":{"name":"sumC"},"mark":{"type":"bar","fill":"white","stroke":"black","strokeWidth":2.5,"width":69.6},
     "encoding":{"x":{"field":"g","type":"nominal","sort":["normal","LUAD"],"scale":{"domain":["normal","LUAD"],"paddingInner":0.34,"paddingOuter":0.345},"axis":{"title":null,"labelAngle":0,"labelFontSize":12,"labelPadding":3,"tickSize":5}},
      "y":{"field":"mean","type":"quantitative","scale":{"domain":[0,2],"nice":false},"axis":{"title":"Relative expression of miR-582-3p","values":[0,0.5,1,1.5,2],"format":".1f","labelFontSize":11,"titleFontSize":12,"titlePadding":8,"tickSize":5,"labelPadding":2}}}},
    {"data":{"name":"dotsC"},"mark":{"type":"square","size":3.6,"color":"black","opacity":1},
     "encoding":{"x":{"field":"g","type":"nominal","sort":["normal","LUAD"]},"xOffset":{"field":"c","type":"quantitative","scale":{"domain":[-13.6,13.6]}},"y":{"field":"v","type":"quantitative"}}},
    {"data":{"name":"sumC"},"mark":{"type":"rule","strokeWidth":2.5,"color":"black"},
     "encoding":{"x":{"field":"g","type":"nominal","sort":["normal","LUAD"]},"y":{"field":"lo","type":"quantitative"},"y2":{"field":"hi"}}},
    {"data":{"name":"sumC"},"mark":{"type":"tick","orient":"horizontal","size":36,"thickness":2.5,"color":"black"},
     "encoding":{"x":{"field":"g","type":"nominal","sort":["normal","LUAD"]},"y":{"field":"lo","type":"quantitative"}}},
    {"data":{"name":"sumC"},"mark":{"type":"tick","orient":"horizontal","size":36,"thickness":2.5,"color":"black"},
     "encoding":{"x":{"field":"g","type":"nominal","sort":["normal","LUAD"]},"y":{"field":"hi","type":"quantitative"}}},
    {"data":{"name":"brC"},"mark":{"type":"rule","strokeWidth":1.2,"color":"#444"},
     "encoding":{"x":{"field":"g","type":"nominal","sort":["normal","LUAD"]},"y":{"field":"top","type":"quantitative"},"y2":{"field":"bot"}}},
    {"data":{"name":"brC2"},"mark":{"type":"rule","strokeWidth":1.2,"color":"#444"},
     "encoding":{"x":{"field":"from","type":"nominal","sort":["normal","LUAD"]},"x2":{"field":"to"},"y":{"field":"y","type":"quantitative"}}},
    {"data":{"name":"brC2"},"mark":{"type":"text","fontSize":11.5,"fontWeight":"bold","color":"black","dx":-52.75},
     "encoding":{"x":{"field":"to","type":"nominal","sort":["normal","LUAD"]},"y":{"field":"ly","type":"quantitative"},"text":{"field":"label"}}}
   ]}
 ],"spacing":56,"resolve":{"scale":{"x":"independent","y":"independent","xOffset":"independent"}}},
 {"vconcat":[
  {"width":238,"height":205,
   "title":{"text":"b","anchor":"start","frame":"bounds","fontSize":17,"fontWeight":"bold","dx":-10,"dy":14,"offset":0},
   "layer":[
    {"data":{"name":"ciB"},"mark":{"type":"line","interpolate":"step-after","strokeDash":[1.2,2],"strokeWidth":1.1},
     "encoding":{"x":{"field":"t","type":"quantitative","scale":{"domain":[0,60],"nice":false},"axis":{"title":"Time (months)","values":[0,10,20,30,40,50,60],"labelFontSize":10,"titleFontSize":13,"titlePadding":4,"tickSize":4,"labelPadding":2,"domainWidth":1.5,"tickWidth":1.5}},
      "y":{"field":"s","type":"quantitative","scale":{"domain":[0,100],"nice":false},"axis":{"title":"Probability of Survival","values":[0,20,40,60,80,100],"labelFontSize":10,"titleFontSize":12,"titlePadding":3,"tickSize":4,"labelPadding":2,"domainWidth":1.5,"tickWidth":1.5}},
      "color":{"field":"grp","type":"nominal","scale":{"domain":["high","low","highCI","lowCI"],"range":["#1a1a1a","#be1e2d","#a0a0a0","#e8a0a0"]},"legend":null},
      "detail":{"field":"b"}}},
    {"data":{"name":"kmB"},"mark":{"type":"line","interpolate":"step-after","strokeWidth":1.6},
     "encoding":{"x":{"field":"t","type":"quantitative"},"y":{"field":"s","type":"quantitative"},
      "color":{"field":"grp","type":"nominal","scale":{"domain":["high","low","highCI","lowCI"],"range":["#1a1a1a","#be1e2d","#a0a0a0","#e8a0a0"]},"legend":null}}},
    {"data":{"name":"cenB"},"mark":{"type":"tick","orient":"vertical","size":5,"thickness":1.2,"yOffset":-2.5},
     "encoding":{"x":{"field":"t","type":"quantitative"},"y":{"field":"s","type":"quantitative"},
      "color":{"field":"grp","type":"nominal","scale":{"domain":["high","low","highCI","lowCI"],"range":["#1a1a1a","#be1e2d","#a0a0a0","#e8a0a0"]},"legend":null}}},
    {"data":{"name":"legB"},"mark":{"type":"rule","strokeWidth":1.6},
     "encoding":{"x":{"field":"t1","type":"quantitative"},"x2":{"field":"t2"},"y":{"field":"s","type":"quantitative"},
      "color":{"field":"grp","type":"nominal","scale":{"domain":["high","low","highCI","lowCI"],"range":["#1a1a1a","#be1e2d","#a0a0a0","#e8a0a0"]},"legend":null}}},
    {"data":{"name":"legB"},"mark":{"type":"tick","orient":"vertical","size":5,"thickness":1.4,"yOffset":-2.5},
     "encoding":{"x":{"field":"tm","type":"quantitative"},"y":{"field":"s","type":"quantitative"},
      "color":{"field":"grp","type":"nominal","scale":{"domain":["high","low","highCI","lowCI"],"range":["#1a1a1a","#be1e2d","#a0a0a0","#e8a0a0"]},"legend":null}}},
    {"data":{"name":"legB"},"mark":{"type":"text","align":"left","fontSize":10.2,"fontWeight":"bold","color":"black"},
     "encoding":{"x":{"field":"tx","type":"quantitative"},"y":{"field":"s","type":"quantitative"},"text":{"field":"label"}}},
    {"data":{"name":"boxB"},"mark":{"type":"rect","fill":"white","stroke":"black","strokeWidth":1.5},
     "encoding":{"x":{"field":"t1","type":"quantitative"},"x2":{"field":"t2"},"y":{"field":"s1","type":"quantitative"},"y2":{"field":"s2"}}},
    {"data":{"name":"boxB"},"mark":{"type":"text","fontSize":11,"fontWeight":"bold","color":"black"},
     "encoding":{"x":{"field":"tc","type":"quantitative"},"y":{"field":"sc","type":"quantitative"},"text":{"field":"label"}}}
   ]},
  {"width":237,"height":205,
   "title":{"text":"d","anchor":"start","frame":"bounds","fontSize":17,"fontWeight":"bold","dx":-14,"dy":18,"offset":0},
   "layer":[
    {"data":{"name":"ciD"},"mark":{"type":"line","interpolate":"step-after","strokeDash":[1.2,2],"strokeWidth":1.1},
     "encoding":{"x":{"field":"t","type":"quantitative","scale":{"domain":[0,60],"nice":false},"axis":{"title":"Time (months)","values":[0,10,20,30,40,50,60],"labelFontSize":10,"titleFontSize":13,"titlePadding":4,"tickSize":4,"labelPadding":2,"domainWidth":1.5,"tickWidth":1.5}},
      "y":{"field":"s","type":"quantitative","scale":{"domain":[0,100],"nice":false},"axis":{"title":"Probability of Survival","values":[0,20,40,60,80,100],"labelFontSize":10,"titleFontSize":12,"titlePadding":3,"tickSize":4,"labelPadding":2,"domainWidth":1.5,"tickWidth":1.5}},
      "color":{"field":"grp","type":"nominal","scale":{"domain":["low","high","lowCI","highCI"],"range":["#1a1a1a","#be1e2d","#a0a0a0","#e8a0a0"]},"legend":null},
      "detail":{"field":"b"}}},
    {"data":{"name":"kmD"},"mark":{"type":"line","interpolate":"step-after","strokeWidth":1.6},
     "encoding":{"x":{"field":"t","type":"quantitative"},"y":{"field":"s","type":"quantitative"},
      "color":{"field":"grp","type":"nominal","scale":{"domain":["low","high","lowCI","highCI"],"range":["#1a1a1a","#be1e2d","#a0a0a0","#e8a0a0"]},"legend":null}}},
    {"data":{"name":"cenD"},"mark":{"type":"tick","orient":"vertical","size":5,"thickness":1.2,"yOffset":-2.5},
     "encoding":{"x":{"field":"t","type":"quantitative"},"y":{"field":"s","type":"quantitative"},
      "color":{"field":"grp","type":"nominal","scale":{"domain":["low","high","lowCI","highCI"],"range":["#1a1a1a","#be1e2d","#a0a0a0","#e8a0a0"]},"legend":null}}},
    {"data":{"name":"legD"},"mark":{"type":"rule","strokeWidth":1.6},
     "encoding":{"x":{"field":"t1","type":"quantitative"},"x2":{"field":"t2"},"y":{"field":"s","type":"quantitative"},
      "color":{"field":"grp","type":"nominal","scale":{"domain":["low","high","lowCI","highCI"],"range":["#1a1a1a","#be1e2d","#a0a0a0","#e8a0a0"]},"legend":null}}},
    {"data":{"name":"legD"},"mark":{"type":"tick","orient":"vertical","size":5,"thickness":1.4,"yOffset":-2.5},
     "encoding":{"x":{"field":"tm","type":"quantitative"},"y":{"field":"s","type":"quantitative"},
      "color":{"field":"grp","type":"nominal","scale":{"domain":["low","high","lowCI","highCI"],"range":["#1a1a1a","#be1e2d","#a0a0a0","#e8a0a0"]},"legend":null}}},
    {"data":{"name":"legD"},"mark":{"type":"text","align":"left","fontSize":10.5,"fontWeight":"bold","color":"black"},
     "encoding":{"x":{"field":"tx","type":"quantitative"},"y":{"field":"s","type":"quantitative"},"text":{"field":"label"}}},
    {"data":{"name":"boxD"},"mark":{"type":"rect","fill":"white","stroke":"black","strokeWidth":1.5},
     "encoding":{"x":{"field":"t1","type":"quantitative"},"x2":{"field":"t2"},"y":{"field":"s1","type":"quantitative"},"y2":{"field":"s2"}}},
    {"data":{"name":"boxD"},"mark":{"type":"text","fontSize":11,"fontWeight":"bold","color":"black"},
     "encoding":{"x":{"field":"tc","type":"quantitative"},"y":{"field":"sc","type":"quantitative"},"text":{"field":"label"}}}
   ]}
 ],"spacing":62,"resolve":{"scale":{"x":"independent","y":"independent","color":"independent"}}}
],
"spacing":55,
"align":"none",
"resolve":{"scale":{"x":"independent","y":"independent","color":"independent","xOffset":"independent"}}
}
